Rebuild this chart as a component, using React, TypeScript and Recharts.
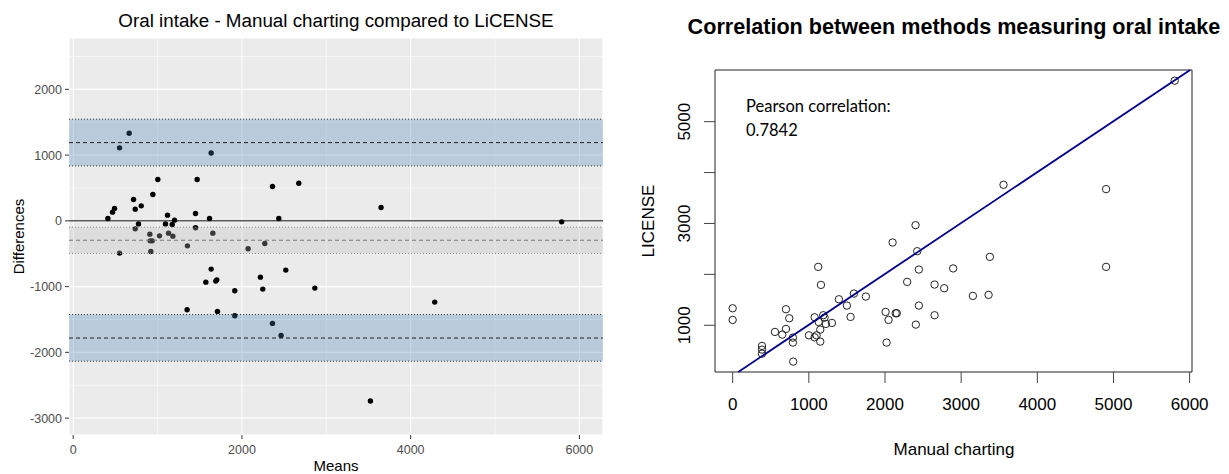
import React from "react";
import {
  ScatterChart,
  Scatter,
  XAxis,
  YAxis,
  CartesianGrid,
  ReferenceLine,
  ReferenceArea,
} from "recharts";

// Bland-Altman: mean of the two methods vs difference (LiCENSE - manual)
const baMeans = [
  411, 466, 490, 549, 549, 663, 715, 735, 735, 774, 806, 908, 920, 912, 936,
  944, 1003, 1023, 1094, 1118, 1130, 1173, 1181, 1201, 1354, 1350, 1450, 1450,
  1469, 1572, 1616, 1635, 1635, 1655, 1690, 1702, 1710, 1915, 1915, 2073, 2219,
  2247, 2271, 2362, 2362, 2437, 2464, 2520, 2674, 2864, 3523, 3649, 4285, 5790,
];
const baDiffs = [
  36, 132, 188, 1110, -491, 1333, 325, 178, -122, -46, 228, -202, -465, -304,
  -304, 401, 629, -228, -46, 87, -187, -55, -233, 11, -380, -1353, 112, -106,
  629, -932, 36, 1033, -734, -187, -916, -897, -1377, -1064, -1444, -425, -856,
  -1038, -344, 522, -1560, 36, -1742, -749, 573, -1023, -2740, 204, -1236, -15,
];

// bias and limits of agreement, each with its confidence band
const biasLine = -295;
const biasBand = [-96, -496];
const upperLoa = 1190;
const upperBand = [835, 1546];
const lowerLoa = -1782;
const lowerBand = [-2134, -1425];

const baXTicks = [0, 2000, 4000, 6000];
const baXMinor = [1000, 3000, 5000];
const baYTicks = [-3000, -2000, -1000, 0, 1000, 2000];
const baYMinor = [-2500, -1500, -500, 500, 1500, 2500];

// correlation plot: manual charting vs LiCENSE
const manualCharting = [
  0, 0, 385, 385, 385, 555, 651, 700, 700, 743, 791, 791, 795, 1001, 1076, 1102,
  1150, 1150, 1076, 1123, 1159, 1129, 1189, 1207, 1224, 1303, 1395, 1500, 1548,
  1592, 1749, 2008, 2047, 2021, 2100, 2140, 2155, 2291, 2401, 2423, 2445, 2445,
  2405, 2651, 2777, 2651, 2895, 3377, 3154, 3360, 4903, 3556, 4903, 5804,
];
const licenseValues = [
  1334, 1105, 594, 522, 443, 869, 817, 928, 1315, 1138, 758, 660, 286, 803, 764,
  803, 679, 915, 1157, 2147, 1793, 1065, 1197, 1151, 1026, 1046, 1511, 1387,
  1164, 1623, 1564, 1262, 1105, 660, 2626, 1236, 1236, 1852, 2967, 2455, 2095,
  1387, 1013, 1800, 1728, 1197, 2117, 2344, 1577, 1597, 2147, 3760, 3675, 5805,
];
const corXTicks = [0, 1000, 2000, 3000, 4000, 5000, 6000];
const corYTicks = [1000, 2000, 3000, 4000, 5000];
const corYLabels = [1000, 3000, 5000];
const fit = { intercept: 9, slope: 1 };
const pearson = "0.7842";

const baDomainX = [-50, 6280];
const baDomainY = [-3257, 2781];
const corDomainX = [-232, 6031];
const corDomainY = [82, 6015];

const baData = baMeans.map((m, i) => ({ mean: m, diff: baDiffs[i] }));
const corData = manualCharting.map((m, i) => ({ manual: m, license: licenseValues[i] }));

const fitStart = { x: corDomainY[0] - fit.intercept, y: corDomainY[0] };
const fitEnd = { x: (corDomainY[1] - fit.intercept) / fit.slope, y: corDomainY[1] };

const CorYTick = (props: any) => {
  const { x, y, payload } = props;
  if (!corYLabels.includes(payload.value)) return <g />;
  return (
    <text
      x={x}
      y={y}
      transform={`rotate(-90, ${x}, ${y})`}
      textAnchor="middle"
      fontSize={17}
      fill="#000"
    >
      {payload.value}
    </text>
  );
};

function BlandAltman() {
  return (
    <ScatterChart
      width={620}
      height={474}
      margin={{ top: 38, right: 17, bottom: 0, left: 0 }}
    >
      <CartesianGrid fill="#EBEBEB" fillOpacity={1} stroke="#fff" strokeWidth={1.1} />
      {baXMinor.map((v) => (
        <ReferenceLine key={"xm" + v} x={v} stroke="#fff" strokeWidth={0.55} />
      ))}
      {baYMinor.map((v) => (
        <ReferenceLine key={"ym" + v} y={v} stroke="#fff" strokeWidth={0.55} />
      ))}
      <XAxis
        type="number"
        dataKey="mean"
        domain={baDomainX}
        allowDataOverflow
        ticks={baXTicks}
        axisLine={false}
        tickSize={4}
        tickMargin={6}
        tickLine={{ stroke: "#333", strokeWidth: 1 }}
        tick={{ fill: "#4D4D4D", fontSize: 12.5 }}
        height={39}
      />
      <YAxis
        type="number"
        dataKey="diff"
        domain={baDomainY}
        allowDataOverflow
        ticks={baYTicks}
        axisLine={false}
        tickSize={4}
        tickMargin={3}
        tickLine={{ stroke: "#333", strokeWidth: 1 }}
        tick={{ fill: "#4D4D4D", fontSize: 12.5 }}
        width={69}
      />
      <ReferenceLine y={0} stroke="#5a5a5a" strokeWidth={1.5} />
      <Scatter
        data={baData}
        isAnimationActive={false}
        shape={(p: any) => <circle cx={p.cx} cy={p.cy} r={2.7} fill="#000" />}
      />
      <ReferenceArea y1={upperBand[0]} y2={upperBand[1]} fill="#4682B4" fillOpacity={0.3} zIndex={700} />
      <ReferenceArea y1={lowerBand[0]} y2={lowerBand[1]} fill="#4682B4" fillOpacity={0.3} zIndex={700} />
      <ReferenceArea y1={biasBand[0]} y2={biasBand[1]} fill="#BEBEBE" fillOpacity={0.3} zIndex={700} />
      {[...upperBand, ...lowerBand].map((v) => (
        <ReferenceLine key={"d" + v} y={v} stroke="#333" strokeWidth={1} strokeDasharray="1 2" zIndex={710} />
      ))}
      {biasBand.map((v) => (
        <ReferenceLine key={"b" + v} y={v} stroke="#888" strokeWidth={1} strokeDasharray="1 2" zIndex={710} />
      ))}
      <ReferenceLine y={upperLoa} stroke="#222" strokeWidth={1} strokeDasharray="4 3" zIndex={710} />
      <ReferenceLine y={lowerLoa} stroke="#222" strokeWidth={1} strokeDasharray="4 3" zIndex={710} />
      <ReferenceLine y={biasLine} stroke="#777" strokeWidth={1} strokeDasharray="4 3" zIndex={710} />
    </ScatterChart>
  );
}

function Correlation() {
  return (
    <ScatterChart
      width={589}
      height={474}
      margin={{ top: 70, right: 37, bottom: 0, left: 0 }}
    >
      <XAxis
        type="number"
        dataKey="manual"
        domain={corDomainX}
        allowDataOverflow
        ticks={corXTicks}
        axisLine={false}
        tickSize={11}
        tickMargin={15}
        tickLine={{ stroke: "#444", strokeWidth: 1 }}
        tick={{ fill: "#000", fontSize: 17 }}
        height={102}
      />
      <YAxis
        type="number"
        dataKey="license"
        domain={corDomainY}
        allowDataOverflow
        ticks={corYTicks}
        axisLine={false}
        tickSize={11}
        tickMargin={14}
        tickLine={{ stroke: "#444", strokeWidth: 1 }}
        tick={<CorYTick />}
        width={75}
      />
      <ReferenceArea
        x1={corDomainX[0]}
        x2={corDomainX[1]}
        y1={corDomainY[0]}
        y2={corDomainY[1]}
        ifOverflow="visible"
        fill="none"
        fillOpacity={0}
        stroke="#222"
        strokeWidth={1}
      />
      <Scatter
        data={corData}
        isAnimationActive={false}
        shape={(p: any) => (
          <circle cx={p.cx} cy={p.cy} r={3.7} fill="none" stroke="#222" strokeWidth={1} />
        )}
      />
      <ReferenceLine
        segment={[fitStart, fitEnd]}
        stroke="#00008B"
        strokeWidth={1.8}
        zIndex={700}
      />
    </ScatterChart>
  );
}

export default function App() {
  return (
    <div
      style={{
        position: "absolute",
        left: 0,
        top: 0,
        width: 1229,
        height: 474,
        background: "#fff",
        fontFamily: "'Liberation Sans', Arial, sans-serif",
      }}
    >
      <div style={{ position: "absolute", left: 0, top: 0 }}>
        <BlandAltman />
      </div>
      <div style={{ position: "absolute", left: 640, top: 0 }}>
        <Correlation />
      </div>
      <svg
        width={1229}
        height={474}
        style={{ position: "absolute", left: 0, top: 0, pointerEvents: "none" }}
      >
        <text x={336} y={27} textAnchor="middle" fontSize={18.8} fill="#000">
          Oral intake - Manual charting compared to LiCENSE
        </text>
        <text x={336} y={471} textAnchor="middle" fontSize={15} fill="#000">
          Means
        </text>
        <text
          x={24}
          y={236.5}
          transform="rotate(-90, 24, 236.5)"
          textAnchor="middle"
          fontSize={15}
          fill="#000"
        >
          Differences
        </text>
        <text x={954} y={34} textAnchor="middle" fontSize={21.6} fontWeight="bold" fill="#000">
          Correlation between methods measuring oral intake
        </text>
        <text x={954} y={455} textAnchor="middle" fontSize={17} fill="#000">
          Manual charting
        </text>
        <text
          x={654}
          y={221}
          transform="rotate(-90, 654, 221)"
          textAnchor="middle"
          fontSize={17}
          fill="#000"
        >
          LICENSE
        </text>
        <text x={746} y={111.7} fontSize={16.5} fontFamily="Lato" fill="#000">
          Pearson correlation:
        </text>
        <text x={746} y={136} fontSize={16.5} fontFamily="Lato" fill="#000">
          {pearson}
        </text>
      </svg>
    </div>
  );
}
